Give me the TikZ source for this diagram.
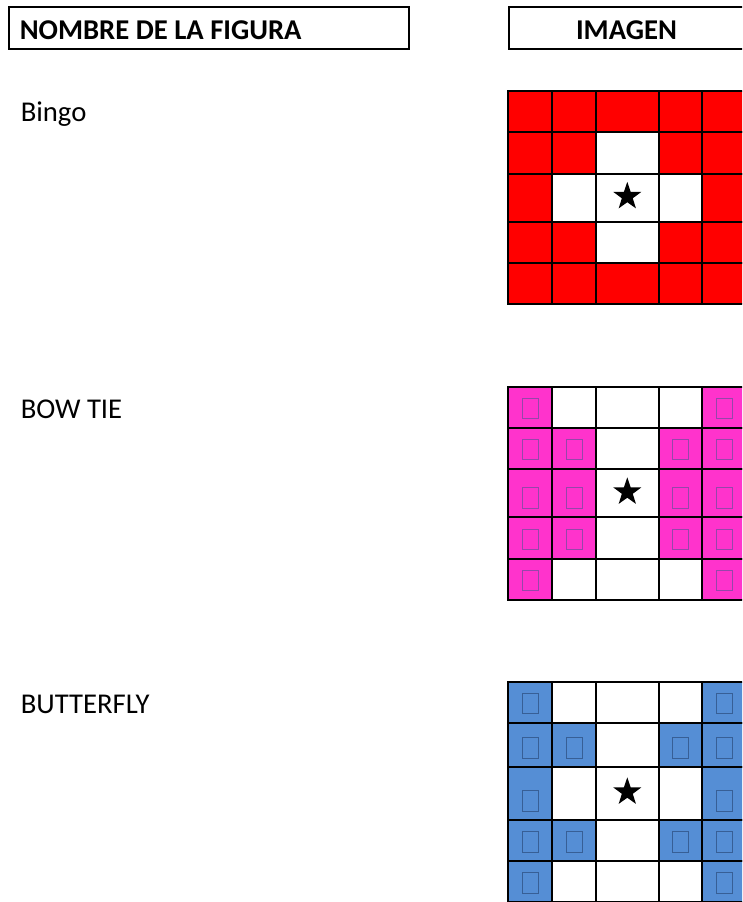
\documentclass[tikz,border=0pt]{standalone}
\usepackage{fontspec}
\setmainfont{Carlito}
\usetikzlibrary{shapes.geometric}
\definecolor{bingored}{RGB}{255,0,0}
\definecolor{bowpink}{RGB}{255,51,204}
\definecolor{bflyblue}{RGB}{85,142,213}
\definecolor{pinkbox}{RGB}{150,70,170}
\definecolor{bluebox}{RGB}{55,95,150}
\tikzset{
  gridline/.style={draw=black, line width=1.45pt},
  hdrbox/.style={draw=black, line width=1.4pt},
  lbl/.style={anchor=base west, inner sep=0pt, font=\fontsize{21.5}{26}\selectfont},
  hdrtxt/.style={inner sep=0pt, font=\fontsize{21.5}{26}\selectfont\bfseries},
  tofu/.style={line width=0.75pt},
  bigstar/.style={star, star points=5, star point ratio=2.55, fill=black, draw=none, inner sep=0pt, minimum size=22pt}
}
\def\xs{{508.3,552.3,596,658.7,702.3,746}}
% #1 ys array, #2 fill colour, #3 filled cells c/r, #4 tofu colour (or none)
\newcommand{\figgrid}[4]{%
  \def\ys{#1}%
  \foreach \c/\r in {#3} {
    \pgfmathsetmacro{\xl}{\xs[\c]}
    \pgfmathsetmacro{\xr}{\xs[\c+1]}
    \pgfmathsetmacro{\yt}{\ys[\r]}
    \pgfmathsetmacro{\yb}{\ys[\r+1]}
    \fill[#2] (\xl,\yt) rectangle (\xr,\yb);
    \ifx#4\relax\else
      \pgfmathsetmacro{\xm}{(\xl+\xr)/2}
      \draw[tofu, draw=#4] (\xm-8,\yb-9) rectangle (\xm+8,\yb-29.5);
    \fi
  }
  \foreach \c in {0,...,4} {
    \foreach \r in {0,...,4} {
      \pgfmathsetmacro{\xl}{\xs[\c]}
      \pgfmathsetmacro{\xr}{\xs[\c+1]}
      \pgfmathsetmacro{\yt}{\ys[\r]}
      \pgfmathsetmacro{\yb}{\ys[\r+1]}
      \draw[gridline] (\xl,\yt) rectangle (\xr,\yb);
    }
  }
}
\begin{document}
\begin{tikzpicture}[x=0.75pt, y=-0.75pt]
\useasboundingbox (0,0) rectangle (742,902);
\clip (0,0) rectangle (742,902);
\fill[white] (0,0) rectangle (742,902);

% headers
\draw[hdrbox] (9,7.3) rectangle (409.3,49.3);
\draw[hdrbox] (509,7.3) rectangle (760,49.3);
\node[hdrtxt, anchor=base west] (hdrname) at (19.5,39.3) {NOMBRE DE LA FIGURA};
\node[hdrtxt, anchor=base] (hdrimg) at (626.5,39.3) {IMAGEN};

% labels
\node[lbl] (lblbingo) at (20.5,121.7) {Bingo};
\node[lbl] (lblbow) at (20.5,418.3) {BOW TIE};
\node[lbl] (lblbfly) at (20.5,713.3) {BUTTERFLY};

% Bingo
\figgrid{{90.7,131.7,173.7,221.7,263.3,304.3}}{bingored}{0/0,1/0,2/0,3/0,4/0,0/1,1/1,3/1,4/1,0/2,4/2,0/3,1/3,3/3,4/3,0/4,1/4,2/4,3/4,4/4}{\relax}
\node[bigstar] (starbingo) at (627.3,196.5) {};

% Bow tie
\figgrid{{386.7,427.7,468.7,517.3,558.7,599.7}}{bowpink}{0/0,4/0,0/1,1/1,3/1,4/1,0/2,1/2,3/2,4/2,0/3,1/3,3/3,4/3,0/4,4/4}{pinkbox}
\node[bigstar] (starbow) at (627.3,492) {};

% Butterfly
\figgrid{{682.3,722.7,767.3,820,861,902}}{bflyblue}{0/0,4/0,0/1,1/1,3/1,4/1,0/2,4/2,0/3,1/3,3/3,4/3,0/4,4/4}{bluebox}
\node[bigstar] (starbfly) at (627.3,792) {};
\end{tikzpicture}
\end{document}
